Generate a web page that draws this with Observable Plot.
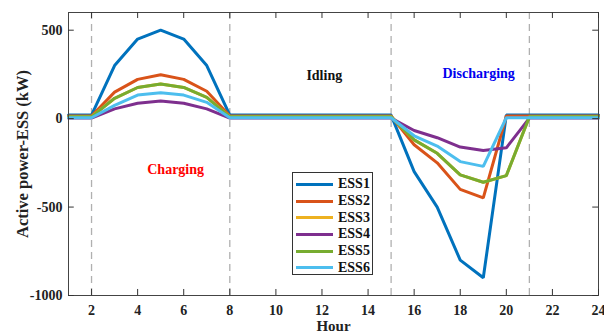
<!DOCTYPE html>
<html>
<head>
<meta charset="utf-8">
<script src="https://cdn.jsdelivr.net/npm/d3@7"></script>
<script src="https://cdn.jsdelivr.net/npm/@observablehq/plot@0.6"></script>
<style>
  html, body { margin: 0; padding: 0; background: white; }
  #wrap { position: relative; width: 604px; height: 335px; font-family: 'Liberation Serif', 'Times New Roman', serif; }
  #legend { position: absolute; left: 292px; top: 172px; width: 81px; height: 103px; border: 1px solid #333; background: white; box-sizing: border-box; padding-top: 3px; }
  .row { height: 16.7px; display: flex; align-items: center; }
  .sw { width: 37px; height: 3px; margin-left: 3px; margin-right: 5px; }
  .lab { font-weight: bold; font-size: 14px; color: #111; line-height: 14px; }
</style>
</head>
<body>
<div id="wrap"><div id="legend"></div></div>
<script>
const hours = d3.range(1, 25);
const seriesNames = ["ESS1", "ESS2", "ESS3", "ESS4", "ESS5", "ESS6"];
const seriesColors = ["#0072BD", "#D95319", "#EDB120", "#7E2F8E", "#77AC30", "#4DBEEE"];
const ess1 = [20, 20, 300, 450, 500, 450, 300, 20, 20, 20, 20, 20, 20, 20, 20, -300, -500, -800, -900, 20, 20, 20, 20, 20];
const ess2 = [15, 15, 150, 222, 248, 222, 155, 15, 15, 15, 15, 15, 15, 15, 15, -148, -250, -400, -448, 15, 15, 15, 15, 15];
const ess3 = [11, 11, 115, 176, 196, 176, 120, 11, 11, 11, 11, 11, 11, 11, 11, -120, -196, -318, -360, -322, 11, 11, 11, 11];
const ess4 = [3, 3, 55, 87, 99, 87, 55, 3, 3, 3, 3, 3, 3, 3, 3, -67, -108, -161, -180, -165, 3, 3, 3, 3];
const ess5 = [10, 10, 115, 176, 196, 176, 120, 10, 10, 10, 10, 10, 10, 10, 10, -120, -196, -318, -360, -322, 10, 10, 10, 10];
const ess6 = [5, 5, 75, 133, 146, 133, 92, 5, 5, 5, 5, 5, 5, 5, 5, -97, -155, -243, -270, 5, 5, 5, 5, 5];
const seriesValues = [ess1, ess2, ess3, ess4, ess5, ess6];
const xTicks = [2, 4, 6, 8, 10, 12, 14, 16, 18, 20, 22, 24];
const yTicks = [-1000, -500, 0, 500];
const phaseBounds = [2, 8, 15, 21];
const phaseLabels = ["Charging", "Idling", "Discharging"];
const phaseX = [5.65, 12.1, 18.8];
const phaseY = [-287, 242, 255];
const phaseColors = ["#ff0000", "#111111", "#0000ee"];

const data = [];
seriesNames.forEach((name, i) => {
  hours.forEach((h, j) => data.push({series: name, hour: h, value: seriesValues[i][j]}));
});
const phases = phaseLabels.map((t, i) => ({text: t, x: phaseX[i], y: phaseY[i], color: phaseColors[i]}));

const tickLen = 34; // in data units (~6px)
const xTickLenH = 0.25;

const chart = Plot.plot({
  width: 604, height: 335,
  marginLeft: 68, marginRight: 6, marginTop: 12, marginBottom: 40,
  style: {fontFamily: "'Liberation Serif', 'Times New Roman', serif", fontWeight: "bold", fontSize: "14px", color: "#222", background: "white"},
  x: {domain: [1, 24], label: null},
  y: {domain: [-1000, 600], label: null},
  color: {domain: seriesNames, range: seriesColors},
  marks: [
    Plot.ruleX(phaseBounds, {x: d => d, stroke: "#b0b0b0", strokeWidth: 1.3, strokeDasharray: "7,5"}),
    Plot.line(data, {x: "hour", y: "value", z: "series", stroke: "series", strokeWidth: 3, strokeLinejoin: "miter"}),
    Plot.frame({stroke: "#444", strokeWidth: 1}),
    Plot.ruleX(xTicks, {x: d => d, y1: -1000, y2: -1000 + tickLen, stroke: "#333"}),
    Plot.ruleX(xTicks, {x: d => d, y1: 600, y2: 600 - tickLen, stroke: "#333"}),
    Plot.ruleY(yTicks, {y: d => d, x1: 1, x2: 1 + xTickLenH, stroke: "#333"}),
    Plot.ruleY(yTicks, {y: d => d, x1: 24, x2: 24 - xTickLenH, stroke: "#333"}),
    Plot.axisX({ticks: xTicks, tickSize: 0, tickPadding: 10, tickFormat: d => String(d), label: null, fontSize: 14}),
    Plot.axisY({ticks: yTicks, tickSize: 0, tickPadding: 6, tickFormat: d => String(d), label: null, fontSize: 14}),
    Plot.text(phases, {x: "x", y: "y", text: "text", fill: "color", fontSize: 14, fontWeight: "bold"}),
    Plot.text(["Hour"], {frameAnchor: "bottom", dy: 35, text: d => d, fontSize: 15, fontWeight: "bold", fill: "#222"}),
    Plot.text(["Active power-ESS (kW)"], {frameAnchor: "left", textAnchor: "middle", dx: -46, rotate: -90, text: d => d, fontSize: 16.5, fontWeight: "bold", fill: "#222"})
  ]
});
document.getElementById("wrap").prepend(chart);

const legend = document.getElementById("legend");
seriesNames.forEach((n, i) => {
  const row = document.createElement("div");
  row.className = "row";
  row.innerHTML = `<div class="sw" style="background:${seriesColors[i]}"></div><span class="lab">${n}</span>`;
  legend.appendChild(row);
});
</script>
</body>
</html>
